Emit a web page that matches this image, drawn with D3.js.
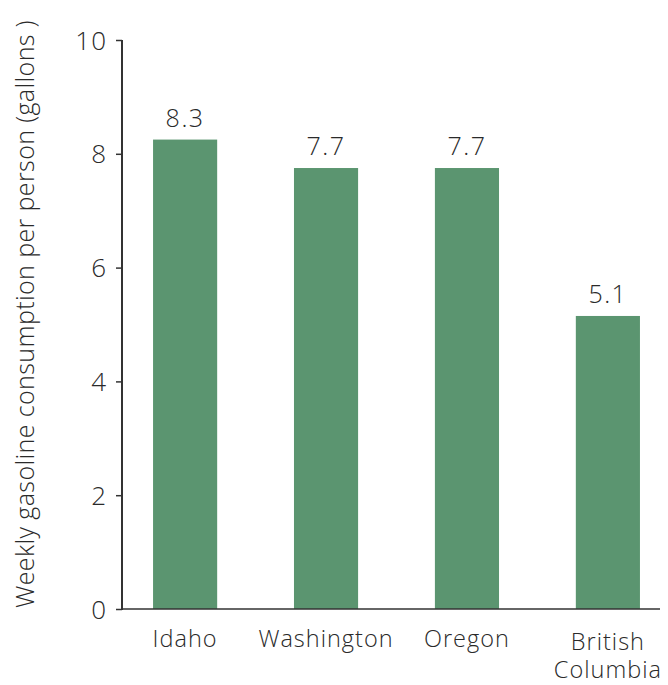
<!DOCTYPE html>
<html><head><meta charset="utf-8">
<script src="https://cdn.jsdelivr.net/npm/d3@7"></script>
<style>body{margin:0;background:#fff}svg text{font-family:"Open Sans",sans-serif;font-weight:300;fill:#2a2a2a}</style>
</head><body><svg id="c" width="668" height="685"></svg>
<script>
const categories = ["Idaho", "Washington", "Oregon", "British Columbia"];
const values = [8.25, 7.75, 7.75, 5.15];
const valueLabels = ["8.3", "7.7", "7.7", "5.1"];
const yTicks = [0, 2, 4, 6, 8, 10];
const yTitle = "Weekly gasoline consumption per person (gallons )";

const svg = d3.select("#c");
const mLeft = 122, mRight = 660, mTop = 40, mBottom = 609;
const y = d3.scaleLinear().domain([0, 10]).range([mBottom, mTop]);
const x = d3.scaleBand().domain(categories).range([115, 678]).paddingInner(0.545).paddingOuter(0.27);

// bars
svg.selectAll("rect.bar").data(values).join("rect").attr("class","bar")
  .attr("x", (d,i)=>x(categories[i])).attr("width", x.bandwidth())
  .attr("y", d=>y(d)).attr("height", d=>y(0)-y(d)).attr("fill", "#5b9570");

// value labels
svg.selectAll("text.val").data(values).join("text").attr("class","val")
  .attr("x", (d,i)=>x(categories[i])+x.bandwidth()/2).attr("y", d=>y(d)-13)
  .attr("text-anchor","middle").attr("font-size", 25).attr("letter-spacing", 1.5)
  .text((d,i)=>valueLabels[i]);

// y axis
const ya = svg.append("g").attr("transform", `translate(${mLeft},0)`)
  .call(d3.axisLeft(y).tickValues(yTicks).tickSize(6).tickPadding(9).tickFormat(d3.format("d")));
ya.select(".domain").attr("stroke","#333").attr("stroke-width",2).attr("d", `M0,${mTop}V${mBottom+1}`);
ya.selectAll(".tick line").attr("stroke","#333").attr("stroke-width",1.5);
ya.selectAll(".tick text").attr("font-size", 26).attr("fill","#2a2a2a").attr("font-family","Open Sans").attr("font-weight",300).attr("letter-spacing",1).attr("dy","0.35em");

// x axis line
svg.append("line").attr("x1", mLeft-1).attr("x2", mRight).attr("y1", mBottom).attr("y2", mBottom)
  .attr("stroke","#333").attr("stroke-width",1.5);

// category labels
categories.forEach((c,i)=>{
  const cx = x(c)+x.bandwidth()/2;
  const words = c === "British Columbia" ? ["British","Columbia"] : [c];
  words.forEach((w,j)=>{
    svg.append("text").attr("x", cx).attr("y", (words.length>1 ? 650 : 647) + j*28)
      .attr("text-anchor","middle").attr("font-size", 23.5).attr("letter-spacing", 1).text(w);
  });
});

// y title
svg.append("text").attr("transform", `translate(34,314) rotate(-90)`)
  .attr("text-anchor","middle").attr("font-size", 25).attr("letter-spacing", 0.4).text(yTitle);
</script></body></html>
